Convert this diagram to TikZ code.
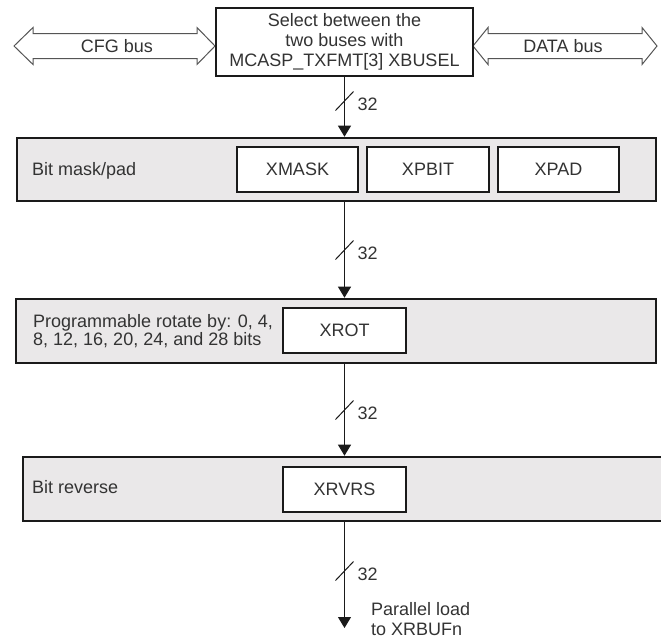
\documentclass[tikz,border=0pt]{standalone}
\usepackage{fontspec}
\setmainfont{Liberation Sans}
\usetikzlibrary{arrows.meta}
\definecolor{txt}{HTML}{333333}
\definecolor{panel}{HTML}{EAE8E9}
\definecolor{edge}{HTML}{1A1A1A}
\definecolor{busline}{HTML}{555555}
\begin{document}
\begin{tikzpicture}[x=1pt,y=-1pt,
  every node/.style={text=txt,font=\fontsize{18}{20}\selectfont,inner sep=0pt},
  topbox/.style={draw=edge,line width=2pt,fill=white,minimum width=257pt,minimum height=68pt,align=center},
  panelbox/.style={draw=edge,line width=2.6pt,fill=panel,minimum height=64pt},
  regbox/.style={draw=edge,line width=1.3pt,fill=white,minimum width=122pt,minimum height=45pt},
  bus/.style={draw=busline,line width=1pt,fill=white},
  conn/.style={draw=edge,line width=1pt,-{Triangle[width=13pt,length=11pt]}},
  slash/.style={draw=edge,line width=1pt},
  lbl/.style={anchor=west}]
\useasboundingbox (0,0) rectangle (661,638);
\clip (0,0) rectangle (661,638);

% bus arrows
\draw[bus] (14,46) -- (33,27.5) -- (33,33.5) -- (197,33.5) -- (197,27.5) -- (215,46)
  -- (197,64.5) -- (197,58.5) -- (33,58.5) -- (33,64.5) -- cycle;
\node (cfg) at (117,46) {CFG bus};
\draw[bus] (473,46) -- (488,27.5) -- (488,33.5) -- (642,33.5) -- (642,27.5) -- (657,46)
  -- (642,64.5) -- (642,58.5) -- (488,58.5) -- (488,64.5) -- cycle;
\node (data) at (563,46) {DATA bus};

% top selector box
\node[topbox] (top) at (344.5,42) {Select between the\\two buses with\\MCASP\_TXFMT[3] XBUSEL};

% panels
\node[panelbox,minimum width=639pt,minimum height=63pt] (mask) at (336.5,169.5) {};
\node[lbl] (masktxt) at (32,171) {Bit mask/pad};
\node[regbox,minimum width=121pt] (xmask) at (297.5,169.5) {XMASK};
\node[regbox] (xpbit) at (428,169.5) {XPBIT};
\node[regbox,minimum width=121pt] (xpad) at (558.5,169.5) {XPAD};

\node[panelbox,minimum width=640pt] (rot) at (336,331) {};
\node[lbl,align=left,font=\fontsize{18}{18}\selectfont] (rottxt) at (33,331) {Programmable rotate by: 0, 4,\\8, 12, 16, 20, 24, and 28 bits};
\node[regbox,minimum width=123pt] (xrot) at (344.5,330.5) {XROT};

\node[panelbox,minimum width=667pt] (rev) at (356.5,489) {};
\node[lbl] (revtxt) at (32,487) {Bit reverse};
\node[regbox,minimum width=123pt] (xrvrs) at (344.5,489.5) {XRVRS};

% connectors
\draw[conn] (top.south) -- (top.south |- mask.north);
\draw[conn] (top.south |- mask.south) -- (top.south |- rot.north);
\draw[conn] (top.south |- rot.south) -- (top.south |- rev.north);
\coordinate (out) at (344.5,628);
\draw[conn] (top.south |- rev.south) -- (out);

% bus-width marks
\foreach \n/\y in {s1/101,s2/250,s3/410,s4/571}{
  \coordinate (\n) at (344.5,\y);
  \draw[slash] ([shift={(-9,9.5)}]\n) -- ([shift={(9,-9.5)}]\n);
  \node[lbl] at ([shift={(13,3)}]\n) {32};
}

\node[lbl,align=left] (pl) at (371,619) {Parallel load\\to XRBUFn};
\end{tikzpicture}
\end{document}
